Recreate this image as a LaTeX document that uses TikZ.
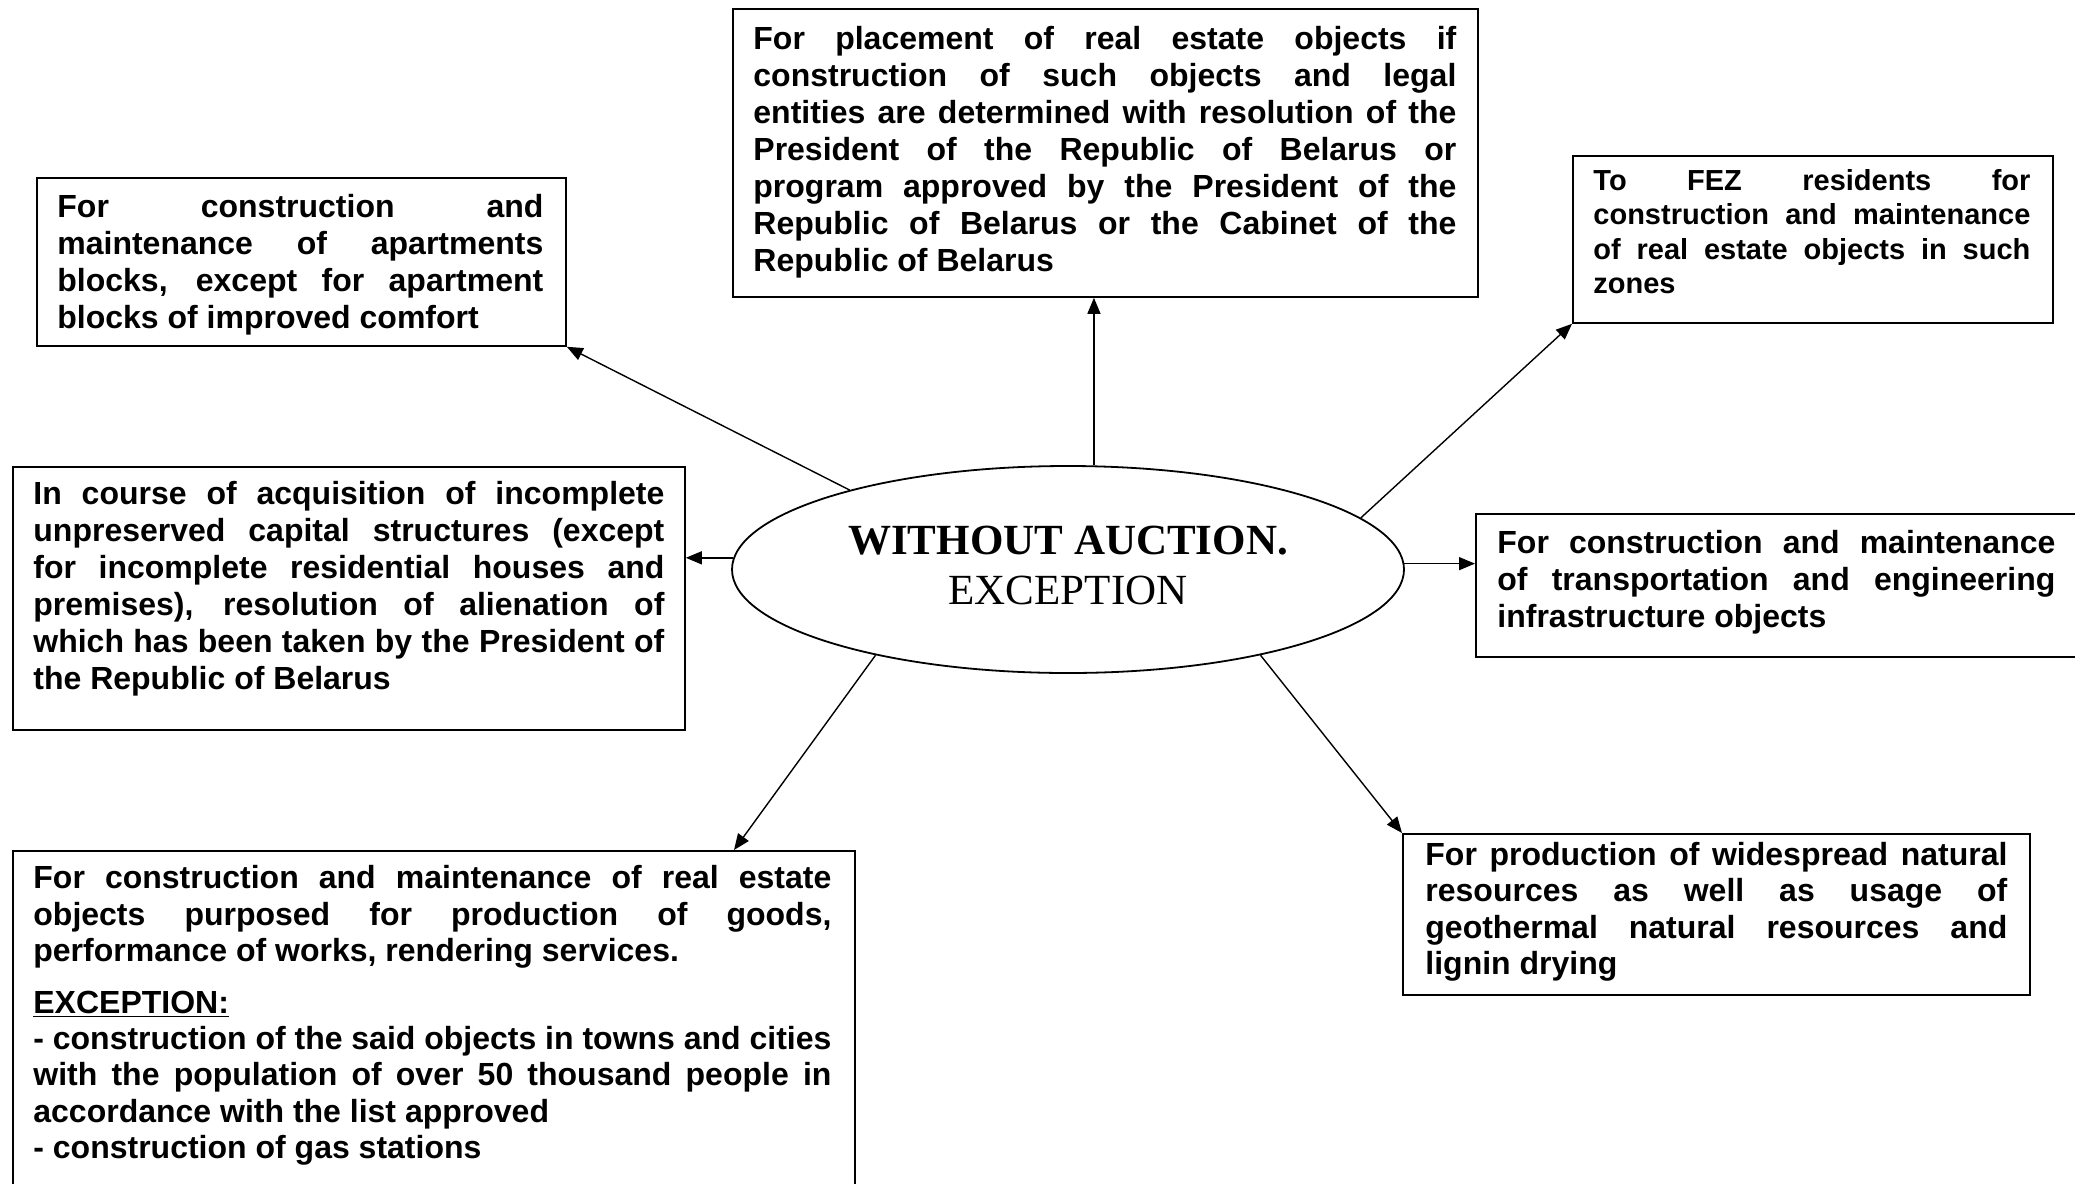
\documentclass[tikz,border=0pt]{standalone}
\usepackage{fontspec}
\newfontfamily\arialf{Liberation Sans}
\newfontfamily\timesf{Liberation Serif}
\usetikzlibrary{arrows.meta,shapes.geometric,calc}
\setlength{\parindent}{0pt}
\begin{document}
\begin{tikzpicture}[x=0.5pt,y=-0.5pt,
  frame/.style={draw, line width=0.9pt, inner sep=0pt, anchor=north west},
  txt/.style={inner sep=0pt, anchor=north west, align=justify, font=\arialf\bfseries\fontsize{16}{18.5}\selectfont},
  tighttxt/.style={txt, font=\arialf\bfseries\fontsize{16}{18.2}\selectfont},
  smalltxt/.style={txt, font=\arialf\bfseries\fontsize{14.5}{17.2}\selectfont},
  conn/.style={line width=0.7pt, -{Triangle[length=8pt,width=6.5pt]}}]
\path[use as bounding box, clip] (0,0) rectangle (2075,1183);
\fill[white] (0,0) rectangle (2075,1183);

% boxes
\node[frame, minimum width=264.5pt, minimum height=84pt] (A) at (36,177) {};
\node[txt, text width=243pt] (At) at (57,191.5) {\strut For construction and\linebreak maintenance of apartments\linebreak blocks, except for apartment\linebreak blocks of improved comfort};

\node[frame, minimum width=372.5pt, minimum height=144pt] (B) at (732,8) {};
\node[txt, text width=351.5pt] (Bt) at (753,23.5) {\strut For placement of real estate objects if\linebreak construction of such objects and legal\linebreak entities are determined with resolution of the\linebreak President of the Republic of Belarus or\linebreak program approved by the President of the\linebreak Republic of Belarus or the Cabinet of the\linebreak Republic of Belarus};

\node[frame, minimum width=240pt, minimum height=83.5pt] (C) at (1572,155) {};
\node[smalltxt, text width=218.5pt] (Ct) at (1593,166) {\strut To FEZ residents for\linebreak construction and maintenance\linebreak of real estate objects in such\linebreak zones};

\node[frame, minimum width=336pt, minimum height=131.5pt] (D) at (12,466) {};
\node[txt, text width=315.5pt] (Dt) at (33,478.5) {\strut In course of acquisition of incomplete\linebreak unpreserved capital structures (except\linebreak for incomplete residential houses and\linebreak premises), resolution of alienation of\linebreak which has been taken by the President of\linebreak the Republic of Belarus};

\node[frame, minimum width=310pt, minimum height=71.5pt] (E) at (1475,513) {};
\node[txt, text width=279pt] (Et) at (1497,527.5) {\strut For construction and maintenance\linebreak of transportation and engineering\linebreak infrastructure objects};

\node[frame, minimum width=313.5pt, minimum height=80.5pt] (F) at (1402,833) {};
\node[tighttxt, text width=291pt] (Ft) at (1425,839.5) {\strut For production of widespread natural\linebreak resources as well as usage of\linebreak geothermal natural resources and\linebreak lignin drying};

\node[frame, minimum width=421pt, minimum height=172.5pt] (G) at (12,850) {};
\node[tighttxt, text width=399pt] (Gt) at (33,863) {\strut For construction and maintenance of real estate\linebreak objects purposed for production of goods,\linebreak performance of works, rendering services.\par\vspace{7.5pt}\underline{EXCEPTION:}\par - construction of the said objects in towns and cities\linebreak with the population of over 50 thousand people in\linebreak accordance with the list approved\par - construction of gas stations};

% centre
\node[draw, line width=0.9pt, ellipse, minimum width=336pt, minimum height=103.5pt, inner sep=0pt] (ell) at (1068,569.5) {};
\node[align=center, inner sep=0pt, font=\timesf\fontsize{21.5}{25}\selectfont] (ellt) at (1068,565) {\textbf{WITHOUT AUCTION.}\\EXCEPTION};

% connectors
\draw[conn] (ell.160.5) -- (A.south east);
\draw[conn] (ell.76.9) -- (ell.76.9 |- B.south);
\draw[conn] (ell.10.6) -- (C.south west);
\draw[conn] (ell.178.5) -- (ell.178.5 -| D.east);
\draw[conn] (ell.1.5) -- (ell.1.5 -| E.west);
\draw[conn] (ell.-24.5) -- (F.north west);
\coordinate (Gtip) at ($(G.north west)+(722,0)$);
\draw[conn] (ell.204.5) -- (Gtip);
\end{tikzpicture}
\end{document}
